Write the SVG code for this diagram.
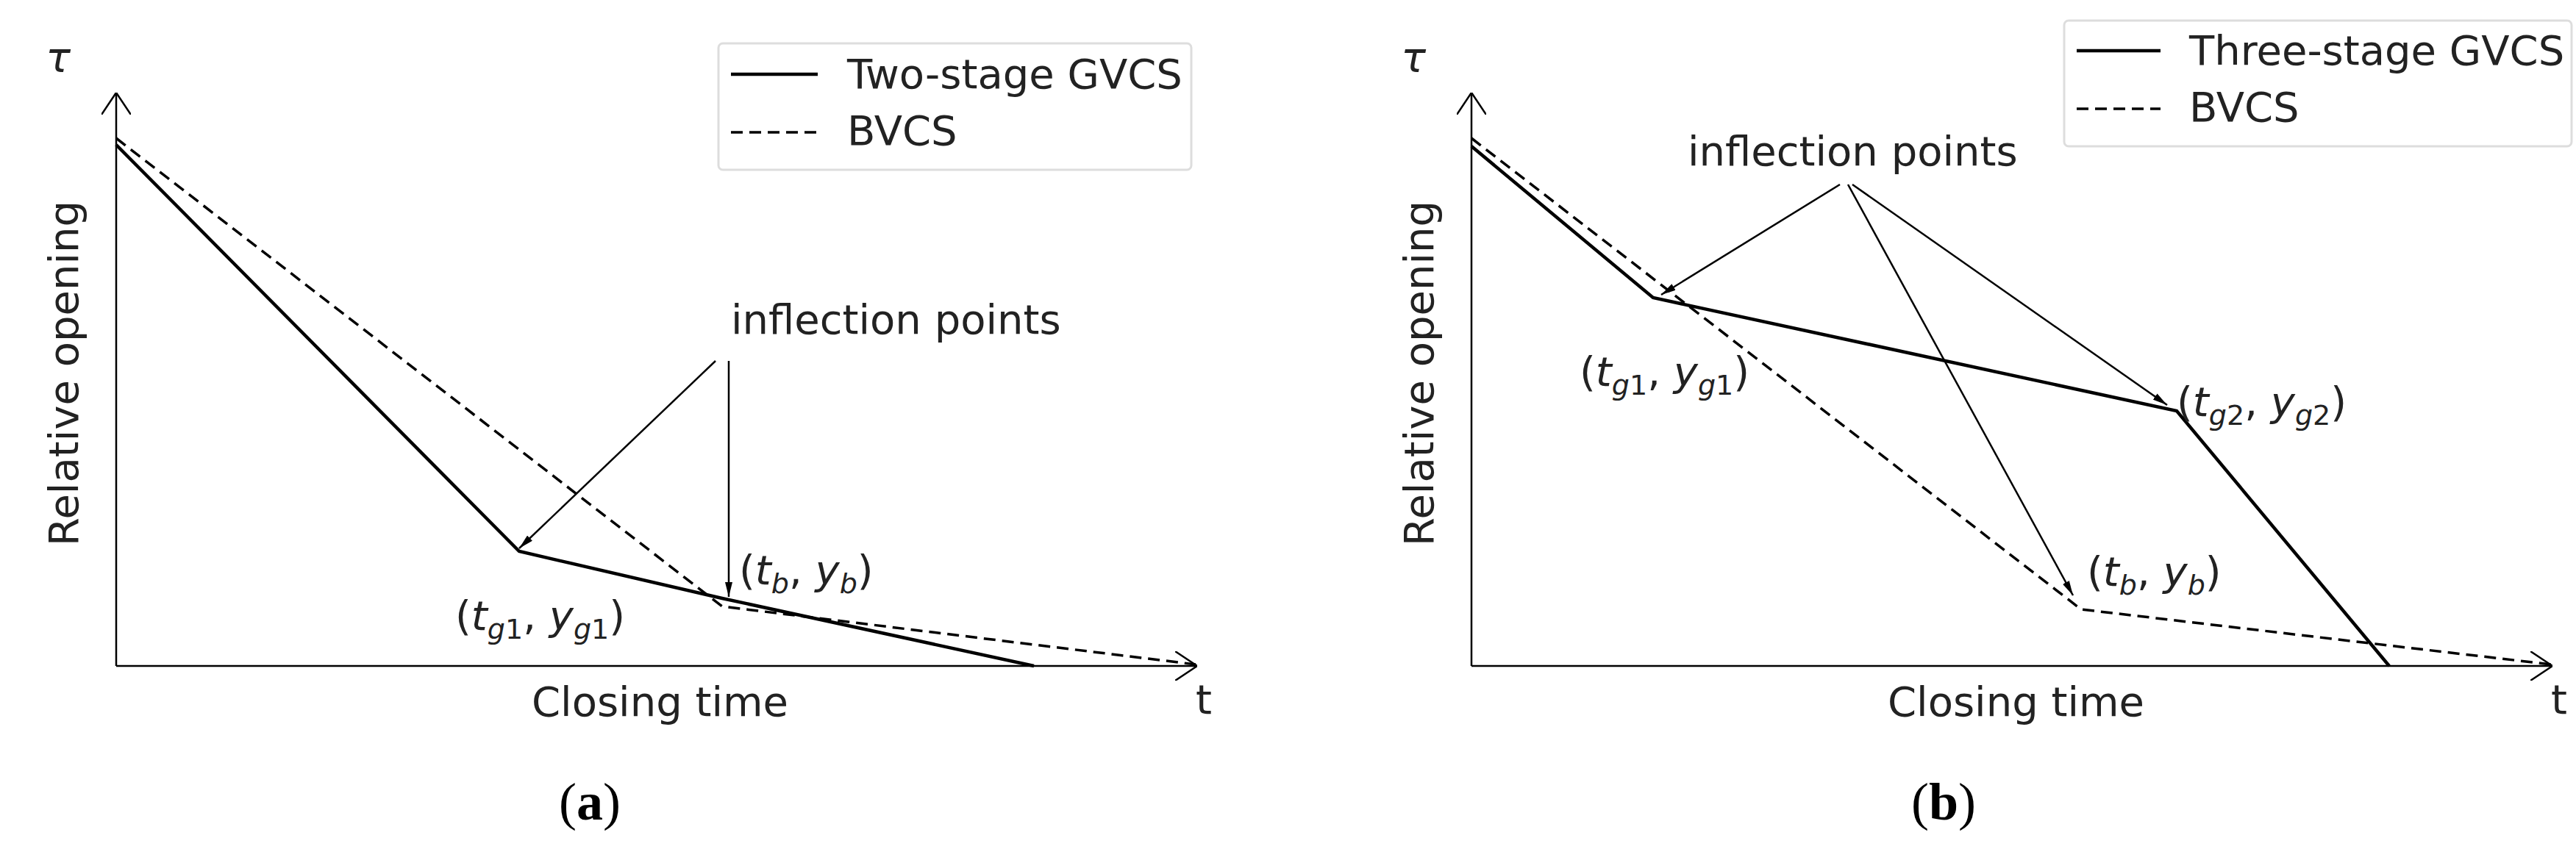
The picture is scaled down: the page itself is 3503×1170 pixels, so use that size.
<svg xmlns="http://www.w3.org/2000/svg" width="3503" height="1170" viewBox="0 0 3503 1170">
<defs>
<marker id="ah" viewBox="0 0 20 10" refX="20" refY="5" markerWidth="20" markerHeight="10" markerUnits="userSpaceOnUse" orient="auto"><path d="M0,0 L20,5 L0,10 z" fill="#000"/></marker>
<marker id="ax" viewBox="0 0 30 40" refX="30" refY="20" markerWidth="30" markerHeight="40" markerUnits="userSpaceOnUse" orient="auto"><path d="M0,0 L30,20 L0,40" fill="none" stroke="#000" stroke-width="2.5"/></marker>
</defs>
<style>
text{font-family:"DejaVu Sans",sans-serif;font-size:56px;fill:#222}
.s{fill:none;stroke:#000;stroke-width:4.5}
.d{fill:none;stroke:#000;stroke-width:3.5;stroke-dasharray:16,9}
.a{fill:none;stroke:#000;stroke-width:2.5}
.lg{fill:#fff;stroke:#ddd;stroke-width:3}
.i{font-style:italic}
.sub{font-size:38px}
.cap{font-family:"Liberation Serif",serif;font-size:72px;fill:#000}
</style>
<rect width="3503" height="1170" fill="#fff"/>
<g id="axes">
<path class="a" d="M158,906 L158,126" marker-end="url(#ax)"/>
<path class="a" d="M158,906 L1628,906" marker-end="url(#ax)"/>
<path class="a" d="M2001,906 L2001,126" marker-end="url(#ax)"/>
<path class="a" d="M2001,906 L3471,906" marker-end="url(#ax)"/>
</g>
<g id="curves">
<polyline class="s" points="158,197 706,750 982,814 1406,906"/>
<polyline class="d" points="158,188 982,825 1626,904"/>
<polyline class="s" points="2001,199 2248,405 2960,559 3249,906"/>
<polyline class="d" points="2001,188 2830,829 3469,904"/>
</g>
<g id="connectors">
<line class="a" x1="973" y1="491" x2="706" y2="746" marker-end="url(#ah)"/>
<line class="a" x1="991" y1="491" x2="991" y2="812" marker-end="url(#ah)"/>
<line class="a" x1="2502" y1="251" x2="2259" y2="401" marker-end="url(#ah)"/>
<line class="a" x1="2513" y1="251" x2="2819" y2="810" marker-end="url(#ah)"/>
<line class="a" x1="2519" y1="251" x2="2947" y2="551" marker-end="url(#ah)"/>
</g>
<g id="legend-a">
<rect class="lg" x="977" y="59" width="643" height="172" rx="6"/>
<line class="s" x1="994" y1="101" x2="1112" y2="101"/>
<text x="1152" y="120">Two-stage GVCS</text>
<line class="d" x1="994" y1="180" x2="1112" y2="180"/>
<text x="1152" y="197">BVCS</text>
</g>
<g id="legend-b">
<rect class="lg" x="2807" y="28" width="690" height="171" rx="6"/>
<line class="s" x1="2824" y1="69" x2="2938" y2="69"/>
<text x="2977" y="88">Three-stage GVCS</text>
<line class="d" x1="2824" y1="148" x2="2938" y2="148"/>
<text x="2977" y="165">BVCS</text>
</g>
<g id="labels-a">
<text x="79" y="98" text-anchor="middle" class="i">τ</text>
<text transform="translate(106,508) rotate(-90)" text-anchor="middle">Relative opening</text>
<text x="994" y="454">inflection points</text>
<text x="1005" y="795">(<tspan class="i">t</tspan><tspan class="sub i" dy="12">b</tspan><tspan dy="-12">, </tspan><tspan class="i">y</tspan><tspan class="sub i" dy="12">b</tspan><tspan dy="-12">)</tspan></text>
<text x="619" y="857">(<tspan class="i">t</tspan><tspan class="sub" dy="12"><tspan class="i">g</tspan>1</tspan><tspan dy="-12">, </tspan><tspan class="i">y</tspan><tspan class="sub" dy="12"><tspan class="i">g</tspan>1</tspan><tspan dy="-12">)</tspan></text>
<text x="723" y="974">Closing time</text>
<text x="1626" y="971">t</text>
<text x="802" y="1115" class="cap" text-anchor="middle">(<tspan font-weight="bold">a</tspan>)</text>
</g>
<g id="labels-b">
<text x="1922" y="98" text-anchor="middle" class="i">τ</text>
<text transform="translate(1949,508) rotate(-90)" text-anchor="middle">Relative opening</text>
<text x="2295" y="225">inflection points</text>
<text x="2148" y="525">(<tspan class="i">t</tspan><tspan class="sub" dy="12"><tspan class="i">g</tspan>1</tspan><tspan dy="-12">, </tspan><tspan class="i">y</tspan><tspan class="sub" dy="12"><tspan class="i">g</tspan>1</tspan><tspan dy="-12">)</tspan></text>
<text x="2960" y="566">(<tspan class="i">t</tspan><tspan class="sub" dy="12"><tspan class="i">g</tspan>2</tspan><tspan dy="-12">, </tspan><tspan class="i">y</tspan><tspan class="sub" dy="12"><tspan class="i">g</tspan>2</tspan><tspan dy="-12">)</tspan></text>
<text x="2838" y="797">(<tspan class="i">t</tspan><tspan class="sub i" dy="12">b</tspan><tspan dy="-12">, </tspan><tspan class="i">y</tspan><tspan class="sub i" dy="12">b</tspan><tspan dy="-12">)</tspan></text>
<text x="2567" y="974">Closing time</text>
<text x="3469" y="971">t</text>
<text x="2643" y="1115" class="cap" text-anchor="middle">(<tspan font-weight="bold">b</tspan>)</text>
</g>
</svg>
